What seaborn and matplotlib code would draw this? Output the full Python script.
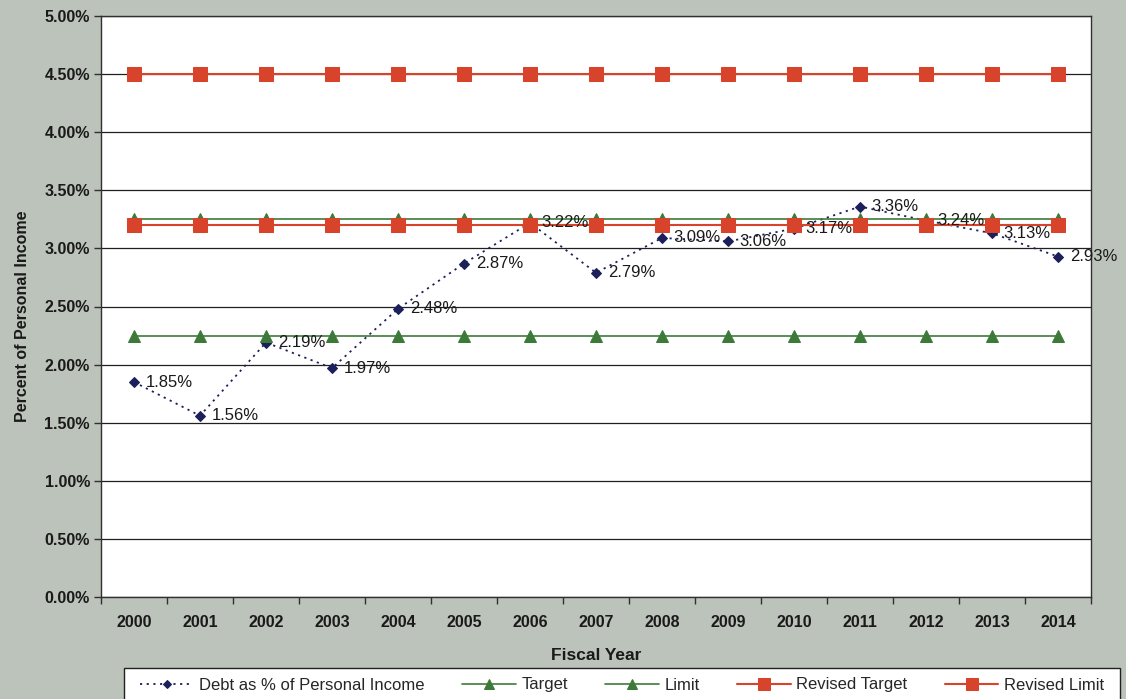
import numpy as np
import pandas as pd
import matplotlib
matplotlib.use("Agg")
import matplotlib.pyplot as plt
import seaborn as sns
from matplotlib.patches import Rectangle
from matplotlib.ticker import FixedLocator, FuncFormatter

years = ["2000", "2001", "2002", "2003", "2004", "2005", "2006", "2007",
         "2008", "2009", "2010", "2011", "2012", "2013", "2014"]
debt_pct = [1.85, 1.56, 2.19, 1.97, 2.48, 2.87, 3.22, 2.79,
            3.09, 3.06, 3.17, 3.36, 3.24, 3.13, 2.93]
target_pct = [2.25] * len(years)
limit_pct = [3.25] * len(years)
revised_target_pct = [3.20] * len(years)
revised_limit_pct = [4.50] * len(years)

series_names = ["Debt as % of Personal Income", "Target", "Limit",
                "Revised Target", "Revised Limit"]

sns.set_theme(style="white")
plt.rcParams["font.family"] = ["Liberation Sans", "DejaVu Sans"]

bg = "#bcc3ba"
navy = "#1c1f5a"
green = "#3d7a3a"
red = "#d8432b"
ink = "#1a1a1a"

W, H = 1126, 699
fig = plt.figure(figsize=(W / 100, H / 100), dpi=100, facecolor=bg)
ax = fig.add_axes([101 / W, 1 - 597 / H, (1091 - 101) / W, (597 - 16) / H])
ax.set_facecolor("white")

pos = np.arange(len(years))
df = pd.DataFrame({"pos": pos, "debt": debt_pct, "target": target_pct,
                   "limit": limit_pct, "rtarget": revised_target_pct,
                   "rlimit": revised_limit_pct})

sns.lineplot(data=df, x="pos", y="debt", ax=ax, color=navy, lw=1.3,
             linestyle=(0, (1.2, 2.5)), marker="D", markersize=5.5,
             markeredgecolor=navy, label=series_names[0], zorder=3)
sns.lineplot(data=df, x="pos", y="target", ax=ax, color=green, lw=1.2,
             marker="^", markersize=9, markeredgecolor=green,
             label=series_names[1], zorder=4)
sns.lineplot(data=df, x="pos", y="limit", ax=ax, color=green, lw=1.2,
             marker="^", markersize=9, markeredgecolor=green,
             label=series_names[2], zorder=4)
sns.lineplot(data=df, x="pos", y="rtarget", ax=ax, color=red, lw=1.5,
             marker="s", markersize=10, markeredgecolor=red,
             label=series_names[3], zorder=5)
sns.lineplot(data=df, x="pos", y="rlimit", ax=ax, color=red, lw=1.5,
             marker="s", markersize=10, markeredgecolor=red,
             label=series_names[4], zorder=5)

for x, v in zip(pos, debt_pct):
    ax.annotate(f"{v:.2f}%", (x, v), xytext=(8.5, 0), textcoords="offset points",
                ha="left", va="center", fontsize=12, color=ink, zorder=10)

ax.set_xlim(-0.5, len(years) - 0.5)
ax.set_ylim(0, 5.0)
ax.yaxis.set_major_locator(FixedLocator(np.arange(0, 5.01, 0.5)))
ax.yaxis.set_major_formatter(FuncFormatter(lambda v, p: f"{v:.2f}%"))
ax.grid(axis="y", color="#202020", lw=0.9)
ax.set_axisbelow(True)

ax.set_xticks(pos)
ax.set_xticklabels(years)
ax.set_xticks(np.arange(-0.5, len(years)), minor=True)
ax.tick_params(axis="x", which="major", length=0, pad=13, labelsize=11.5,
               labelcolor=ink)
ax.tick_params(axis="x", which="minor", length=5, width=1, color="#303030",
               direction="out", bottom=True)
ax.tick_params(axis="y", length=5, width=1, color="#303030", direction="out",
               left=True, pad=3, labelsize=11.5, labelcolor=ink)
for lbl in ax.get_xticklabels() + ax.get_yticklabels():
    lbl.set_fontweight("bold")

for s in ax.spines.values():
    s.set_visible(True)
    s.set_color("#303030")
    s.set_linewidth(1.0)

ax.set_xlabel("Fiscal Year", fontsize=12.5, fontweight="bold", labelpad=13,
              color=ink)
ax.set_ylabel("Percent of Personal Income", fontsize=11.5, fontweight="bold",
              color=ink)
ax.yaxis.set_label_coords((30 - 101) / 990, 0.483)

# legend box runs past the bottom edge of the figure
fig.patches.append(Rectangle((124 / W, -0.05), (1120 - 124) / W, 0.05 + 1 - 668 / H,
                             transform=fig.transFigure, facecolor="white",
                             edgecolor="#202020", lw=1.0, zorder=1))

handles, labels = ax.get_legend_handles_labels()
ax.get_legend().remove()
leg = fig.legend(handles, labels, loc="center left", ncol=5,
                 bbox_to_anchor=(140 / W, 1 - 685 / H),
                 frameon=False, fontsize=12, handlelength=3.2,
                 handletextpad=0.35, borderpad=0, borderaxespad=0,
                 columnspacing=2.25, markerscale=0.8)
leg.set_zorder(2)

fig.savefig("out.png", dpi=100, facecolor=bg)
